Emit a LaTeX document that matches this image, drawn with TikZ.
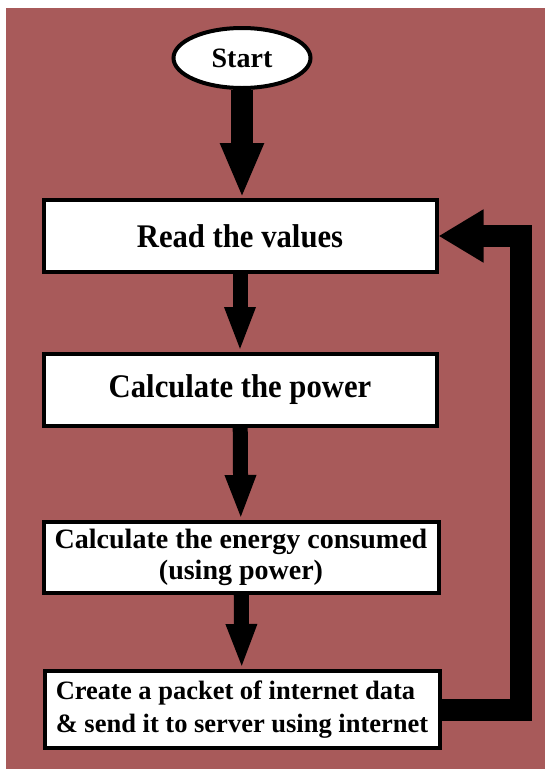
\documentclass[tikz,border=0pt]{standalone}
\usepackage{fontspec}
\setmainfont{Liberation Serif}
\newfontfamily\tallserif[FakeStretch=0.93]{Liberation Serif}
\usetikzlibrary{arrows.meta,shapes.geometric}
\definecolor{Brick}{HTML}{A85A5A}
\definecolor{Ink}{HTML}{000000}

\begin{document}
\begin{tikzpicture}[x=1pt,y=-1pt,
  stepbox/.style={draw=Ink,fill=white,line width=4pt,rectangle,inner sep=0pt,
    font=\tallserif\bfseries\fontsize{33}{38}\selectfont},
  flow/.style={Ink,line width=15pt,-{Triangle[length=45pt,width=28pt]}},
  loopback/.style={Ink,line width=22pt,line join=miter,-{Triangle[length=45pt,width=50pt]}}]
  \useasboundingbox (0,0) rectangle (545,769);
  \fill[white] (0,0) rectangle (545,769);
  \fill[Brick] (6,8) rectangle (545,769);
  % blocks
  \node[ellipse,draw=Ink,fill=white,line width=4pt,inner sep=0pt,
    minimum width=137pt,minimum height=60pt,
    font=\bfseries\fontsize{28}{32}\selectfont] (start) at (242,58) {Start};
  \node[stepbox,minimum width=393pt,minimum height=72pt] (read) at (240,236) {Read the values};
  \node[stepbox,minimum width=393pt,minimum height=72pt] (power) at (240,390) {Calculate the power};
  \node[stepbox,minimum width=395pt,minimum height=71pt,align=center,
    font=\bfseries\fontsize{28}{31}\selectfont] (energy) at (241,557.5)
    {Calculate the energy consumed\\(using power)};
  \node[stepbox,minimum width=395pt,minimum height=77pt,align=left,
    font=\bfseries\fontsize{26.5}{33}\selectfont] (packet) at (242,709.5)
    {Create a packet of internet data\\\& send it to server using internet};
  % arrows
  \draw[Ink,line width=22pt,-{Triangle[length=55pt,width=40pt]}] (start.south) -- (start.south |- read.north);
  \draw[flow] (read) -- (power);
  \draw[flow] (power) -- (energy);
  \draw[flow] (energy) -- (packet);
  \coordinate (back) at (521,0);
  \draw[loopback] (packet.east) -- (packet.east -| back) |- (read.east);
\end{tikzpicture}
\end{document}
